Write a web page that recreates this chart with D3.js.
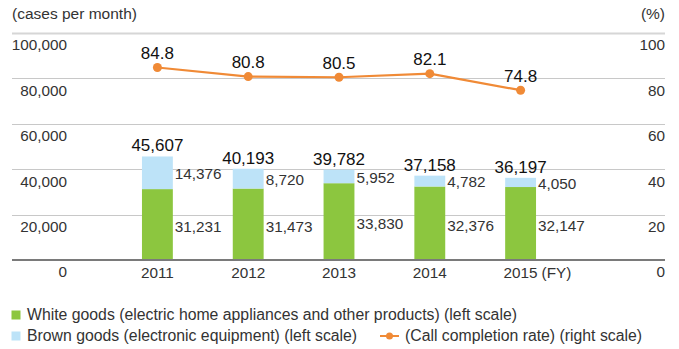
<!DOCTYPE html>
<html>
<head>
<meta charset="utf-8">
<script src="https://cdn.jsdelivr.net/npm/d3@7"></script>
<style>
  html, body { margin: 0; padding: 0; background: #fff; }
  svg { display: block; }
  svg text { font-family: "Liberation Sans", Arial, Helvetica, sans-serif; }
</style>
</head>
<body>
<svg id="chart" width="679" height="349"></svg>
<script>
// Fiscal years and monthly case counts
const years = ["2011", "2012", "2013", "2014", "2015"];
const whiteGoods = [31231, 31473, 33830, 32376, 32147];
const brownGoods = [14376, 8720, 5952, 4782, 4050];
const totals = [45607, 40193, 39782, 37158, 36197];
const completionRate = [84.8, 80.8, 80.5, 82.1, 74.8];
const leftTicks = [0, 20000, 40000, 60000, 80000, 100000];
const rightTicks = [0, 20, 40, 60, 80, 100];

const colors = { white: "#8cc63f", brown: "#bde3f8", rate: "#f08a36" };
const textColor = "#333";

const svg = d3.select("#chart");
const plotLeft = 12, plotRight = 665, plotTop = 33, plotBottom = 260;

const x = d3.scaleBand().domain(years).range([112, 566]).paddingInner(0.66).paddingOuter(0.33);
const yL = d3.scaleLinear().domain([0, 100000]).range([plotBottom, plotTop]);
const yR = d3.scaleLinear().domain([0, 100]).range([plotBottom, plotTop]);
const fmt = d3.format(",");

// gridlines (top one slightly heavier)
svg.append("g").selectAll("line").data(leftTicks.filter(d => d > 0)).join("line")
  .attr("x1", plotLeft).attr("x2", plotRight)
  .attr("y1", d => Math.round(yL(d)) + 0.5).attr("y2", d => Math.round(yL(d)) + 0.5)
  .attr("stroke", d => d === 100000 ? "#d6d6d6" : "#c8c8c8")
  .attr("stroke-width", d => d === 100000 ? 2 : 1);

function styleAxis(g) {
  g.attr("font-family", null).attr("font-size", null);
  g.select(".domain").remove();
  g.selectAll("text").attr("font-size", 15.3).attr("fill", textColor);
}

// left axis labels sit just below their gridline
const leftAxis = d3.axisLeft(yL).tickValues(leftTicks).tickFormat(fmt).tickSize(0).tickPadding(0);
svg.append("g").attr("transform", "translate(67,12)").call(leftAxis).call(styleAxis);

const rightAxis = d3.axisLeft(yR).tickValues(rightTicks).tickSize(0).tickPadding(0);
svg.append("g").attr("transform", "translate(665,12)").call(rightAxis).call(styleAxis);

// axis captions
svg.append("text").attr("x", 12).attr("y", 19).attr("font-size", 15.5).attr("fill", textColor).text("(cases per month)");
svg.append("text").attr("x", 665).attr("y", 19).attr("text-anchor", "end").attr("font-size", 15.5).attr("fill", textColor).text("(%)");

// stacked bars
const bars = svg.append("g");
years.forEach((yr, i) => {
  const bx = x(yr), bw = x.bandwidth();
  bars.append("rect").attr("x", bx).attr("width", bw)
    .attr("y", yL(whiteGoods[i])).attr("height", yL(0) - yL(whiteGoods[i]))
    .attr("fill", colors.white);
  bars.append("rect").attr("x", bx).attr("width", bw)
    .attr("y", yL(whiteGoods[i] + brownGoods[i])).attr("height", yL(whiteGoods[i]) - yL(whiteGoods[i] + brownGoods[i]))
    .attr("fill", colors.brown);
  // segment values beside the bar
  bars.append("text").attr("x", bx + bw + 2).attr("y", (yL(0) + yL(whiteGoods[i])) / 2 + 2)
    .attr("dy", "0.35em").attr("font-size", 15.3).attr("fill", textColor).text(fmt(whiteGoods[i]));
  bars.append("text").attr("x", bx + bw + 2)
    .attr("y", (yL(whiteGoods[i]) + yL(whiteGoods[i] + brownGoods[i])) / 2 + 1)
    .attr("dy", "0.35em").attr("font-size", 15.3).attr("fill", textColor).text(fmt(brownGoods[i]));
  // total above bar
  bars.append("text").attr("x", bx + bw / 2).attr("y", yL(totals[i]) - 5)
    .attr("text-anchor", "middle").attr("font-size", 17).attr("fill", "#111").text(fmt(totals[i]));
});

// baseline
svg.append("line").attr("x1", plotLeft).attr("x2", plotRight).attr("y1", plotBottom).attr("y2", plotBottom)
  .attr("stroke", "#7a7a7a").attr("stroke-width", 2);

// year labels
const xAxis = d3.axisBottom(x).tickSize(0).tickPadding(0);
svg.append("g").attr("transform", "translate(0,267)").call(xAxis).call(styleAxis);
svg.append("text").attr("x", x("2015") + x.bandwidth() / 2 + 21).attr("y", 278)
  .attr("font-size", 15.3).attr("fill", textColor).text("(FY)");

// completion rate line
const cx = d => x(d) + x.bandwidth() / 2;
const line = d3.line().x((d, i) => cx(years[i])).y(d => yR(d));
svg.append("path").datum(completionRate).attr("d", line)
  .attr("fill", "none").attr("stroke", colors.rate).attr("stroke-width", 2.2);
svg.append("g").selectAll("circle").data(completionRate).join("circle")
  .attr("cx", (d, i) => cx(years[i])).attr("cy", d => yR(d)).attr("r", 4.5).attr("fill", colors.rate);
svg.append("g").selectAll("text").data(completionRate).join("text")
  .attr("x", (d, i) => cx(years[i])).attr("y", d => yR(d) - 8.5)
  .attr("text-anchor", "middle").attr("font-size", 17).attr("fill", "#111").text(d => d.toFixed(1));

// legend
const lg = svg.append("g").attr("fill", textColor);
lg.append("rect").attr("x", 11.5).attr("y", 310.5).attr("width", 9).attr("height", 9).attr("fill", colors.white);
lg.append("text").attr("x", 27).attr("y", 319.5).attr("font-size", 15.8)
  .text("White goods (electric home appliances and other products) (left scale)");
lg.append("rect").attr("x", 11.5).attr("y", 331.5).attr("width", 9).attr("height", 9).attr("fill", colors.brown);
lg.append("text").attr("x", 27).attr("y", 341).attr("font-size", 15.8)
  .text("Brown goods (electronic equipment) (left scale)");
lg.append("line").attr("x1", 380).attr("x2", 399).attr("y1", 336).attr("y2", 336).attr("stroke", colors.rate).attr("stroke-width", 2);
lg.append("circle").attr("cx", 389.5).attr("cy", 336).attr("r", 3.5).attr("fill", colors.rate);
lg.append("text").attr("x", 405).attr("y", 341).attr("font-size", 15.8)
  .text("(Call completion rate) (right scale)");
</script>
</body>
</html>
